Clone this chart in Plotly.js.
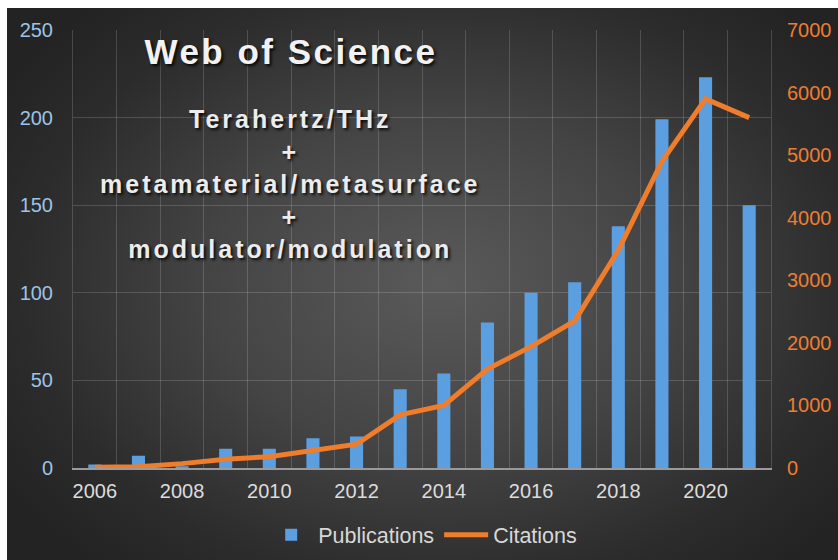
<!DOCTYPE html>
<html>
<head>
<meta charset="utf-8">
<script src="https://cdn.plot.ly/plotly-3.0.1.min.js"></script>
<style>
  html, body { margin: 0; padding: 0; background: #ffffff; }
  #wrap { position: relative; width: 838px; height: 560px; overflow: hidden; background: #ffffff; }
  #bg { position: absolute; left: 7px; top: 8px; right: 0; bottom: 0;
        background: radial-gradient(ellipse 62% 68% at 52% 50%, #5a5a5a 0%, #444444 45%, #2c2c2c 80%, #232323 100%); }
  #plot { position: absolute; left: 0; top: 0; width: 838px; height: 560px; }
  #plot .annotation text { letter-spacing: 3px; }
  #plot .annotation[data-index="0"] text { letter-spacing: 2.5px; }
</style>
</head>
<body>
<div id="wrap">
  <div id="bg"></div>
  <div id="plot"></div>
</div>
<script>
const years = [2006, 2007, 2008, 2009, 2010, 2011, 2012, 2013, 2014, 2015, 2016, 2017, 2018, 2019, 2020, 2021];
const publications = [2, 7, 1, 11, 11, 17, 18, 45, 54, 83, 100, 106, 138, 199, 223, 150];
const citations = [10, 20, 70, 140, 180, 290, 380, 850, 1000, 1580, 1940, 2350, 3480, 4900, 5900, 5600];
const xTickYears = [2006, 2008, 2010, 2012, 2014, 2016, 2018, 2020];
const titleText = 'Web of Science';
const queryText = 'Terahertz/THz<br>+<br>metamaterial/metasurface<br>+<br>modulator/modulation';

const gridCol = 'rgba(255,255,255,0.16)';
const shadow = '2px 2px 3px rgba(0,0,0,0.85)';

const traces = [
  {
    type: 'bar', name: 'Publications', x: years, y: publications,
    width: 0.3, marker: { color: '#5b9fe0' }, yaxis: 'y'
  },
  {
    type: 'scatter', mode: 'lines', name: 'Citations', x: years, y: citations,
    line: { color: '#ef7d2c', width: 5 }, yaxis: 'y2'
  }
];

const layout = {
  width: 838, height: 560,
  margin: { l: 73, r: 67, t: 30, b: 92 },
  paper_bgcolor: 'rgba(0,0,0,0)',
  plot_bgcolor: 'rgba(0,0,0,0)',
  font: { family: 'Liberation Sans, Arial, sans-serif', color: '#dddddd' },
  showlegend: true,
  legend: {
    orientation: 'h', xref: 'container', yref: 'container',
    x: 0.505, xanchor: 'center', y: 0.045, yanchor: 'middle',
    font: { size: 21.5, color: '#d8d8d8' }, itemwidth: 44, bgcolor: 'rgba(0,0,0,0)'
  },
  xaxis: {
    type: 'linear', range: [2005.5, 2021.5],
    tickmode: 'array', tickvals: xTickYears, ticktext: xTickYears.map(String),
    showgrid: false, zeroline: false,
    showline: true, linecolor: '#9a9a9a', linewidth: 1.5,
    ticks: 'outside', ticklen: 4, tickcolor: 'rgba(0,0,0,0)',
    tickfont: { size: 20, color: '#dcdcdc' },
    minor: { tickmode: 'linear', tick0: 2005.5, dtick: 1, showgrid: true, gridcolor: gridCol, gridwidth: 1, ticks: '' }
  },
  yaxis: {
    range: [0, 250], dtick: 50, tick0: 0,
    showgrid: true, gridcolor: gridCol, gridwidth: 1, zeroline: false,
    showline: true, linecolor: gridCol, linewidth: 1,
    ticks: 'outside', ticklen: 15, tickcolor: 'rgba(0,0,0,0)',
    tickfont: { size: 20, color: '#9dc3e6' }
  },
  yaxis2: {
    range: [0, 7000], dtick: 1000, tick0: 0, overlaying: 'y', side: 'right',
    showgrid: false, zeroline: false,
    showline: true, linecolor: gridCol, linewidth: 1,
    ticks: 'outside', ticklen: 11, tickcolor: 'rgba(0,0,0,0)',
    tickfont: { size: 20, color: '#ed7d31' }
  },
  annotations: [
    {
      text: '<b>' + titleText + '</b>', xref: 'paper', yref: 'paper',
      x: 0.312, y: 0.952, xanchor: 'center', yanchor: 'middle', showarrow: false,
      font: { size: 35, color: '#f2f2f2', shadow: shadow }
    },
    {
      text: '<b>' + queryText + '</b>', xref: 'paper', yref: 'paper',
      x: 0.312, y: 0.648, xanchor: 'center', yanchor: 'middle', showarrow: false,
      align: 'center',
      font: { size: 25, color: '#ececec', shadow: shadow }
    }
  ]
};

Plotly.newPlot('plot', traces, layout, { displayModeBar: false, staticPlot: true });
</script>
</body>
</html>
